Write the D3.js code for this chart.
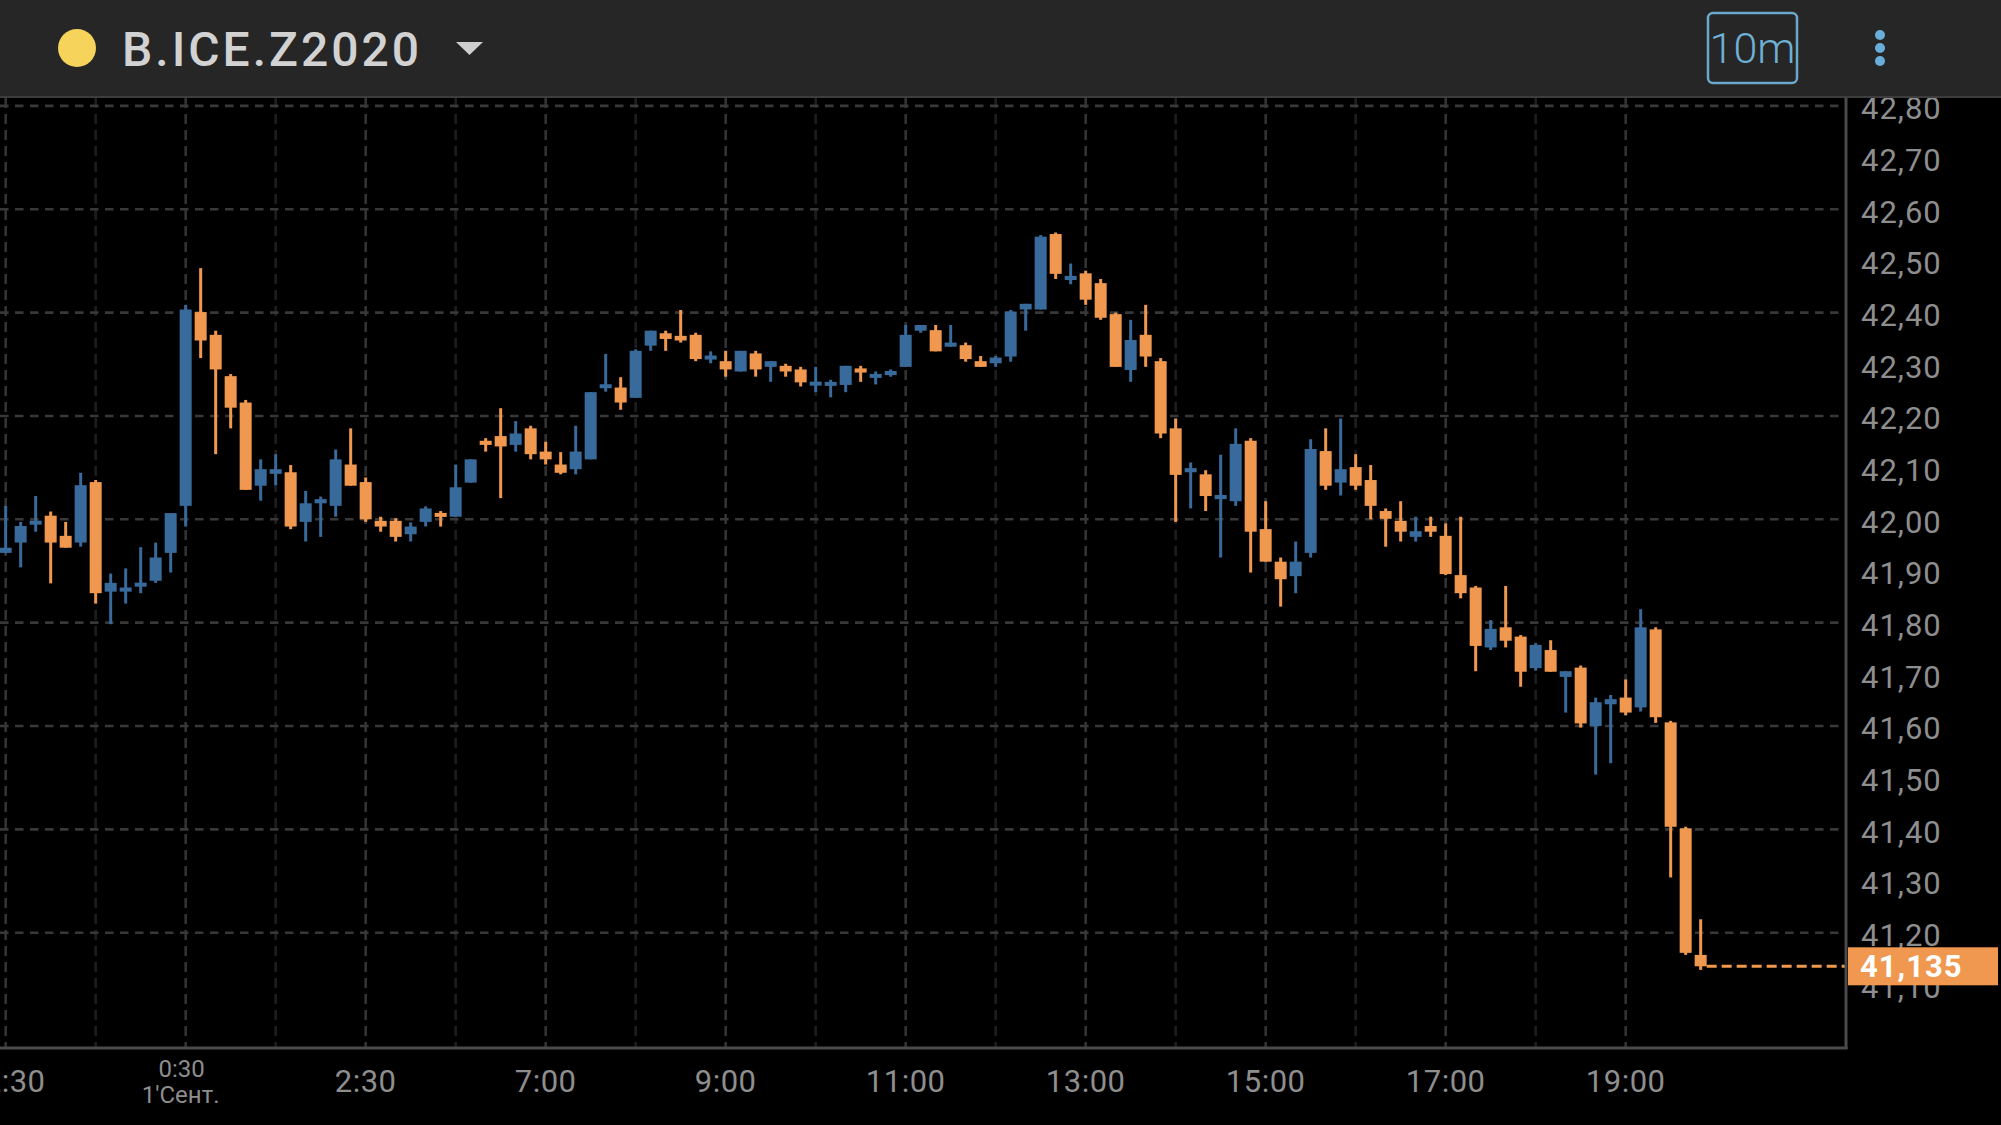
<!DOCTYPE html>
<html>
<head>
<meta charset="utf-8">
<script src="https://cdn.jsdelivr.net/npm/d3@7"></script>
<style>
  html, body { margin: 0; padding: 0; background: #000; }
  svg { display: block; }
</style>
</head>
<body>
<div id="chart"></div>
<script>
// ---- data (10-minute candles, B.ICE.Z2020) ----
const opens = [
  41.935,41.955,41.990,42.007,41.968,41.955,42.072,41.860,41.860,41.870,41.881,41.935,
  42.026,42.401,42.357,42.277,42.226,42.065,42.088,42.091,41.995,42.031,42.026,42.106,
  42.072,41.997,41.997,41.971,41.995,42.012,42.005,42.071,42.152,42.161,42.144,42.176,
  42.131,42.106,42.097,42.116,42.254,42.255,42.235,42.336,42.360,42.355,42.357,42.310,
  42.306,42.286,42.321,42.295,42.297,42.290,42.260,42.259,42.260,42.292,42.274,42.279,
  42.295,42.365,42.366,42.334,42.337,42.306,42.302,42.315,42.406,42.406,42.552,42.463,
  42.476,42.457,42.397,42.289,42.357,42.306,42.176,42.091,42.087,42.039,42.035,42.152,
  41.981,41.918,41.890,41.935,42.132,42.071,42.101,42.076,42.016,41.997,41.966,41.987,
  41.968,41.892,41.868,41.752,41.791,41.773,41.712,41.747,41.695,41.713,41.600,41.642,
  41.655,41.636,41.787,41.607,41.402,41.157
];
const highs = [
  42.026,41.995,42.045,42.015,41.995,42.090,42.076,41.895,41.905,41.946,41.955,42.012,
  42.415,42.486,42.365,42.281,42.231,42.116,42.126,42.105,42.055,42.044,42.135,42.176,
  42.081,42.005,42.002,41.994,42.025,42.016,42.106,42.116,42.157,42.215,42.190,42.181,
  42.150,42.130,42.181,42.246,42.320,42.275,42.329,42.365,42.365,42.405,42.361,42.325,
  42.326,42.326,42.326,42.306,42.301,42.295,42.295,42.270,42.297,42.297,42.286,42.290,
  42.376,42.376,42.376,42.376,42.342,42.316,42.316,42.405,42.417,42.550,42.555,42.495,
  42.481,42.465,42.400,42.386,42.415,42.312,42.195,42.110,42.095,42.125,42.176,42.157,
  42.035,41.926,41.957,42.155,42.176,42.195,42.126,42.105,42.021,42.035,42.005,42.005,
  41.992,42.005,41.871,41.805,41.871,41.776,41.760,41.766,41.706,41.717,41.655,41.660,
  41.690,41.826,41.791,41.610,41.405,41.226
];
const lows = [
  41.934,41.907,41.976,41.876,41.945,41.947,41.837,41.797,41.837,41.857,41.877,41.897,
  41.986,42.312,42.126,42.176,42.057,42.036,42.066,41.981,41.957,41.966,42.005,42.065,
  41.995,41.976,41.957,41.957,41.986,41.986,42.005,42.071,42.131,42.041,42.131,42.116,
  42.106,42.087,42.087,42.116,42.247,42.212,42.235,42.326,42.326,42.342,42.306,42.302,
  42.276,42.286,42.276,42.266,42.276,42.257,42.246,42.236,42.246,42.266,42.261,42.276,
  42.295,42.361,42.325,42.334,42.305,42.295,42.295,42.305,42.365,42.406,42.465,42.455,
  42.415,42.386,42.295,42.266,42.295,42.157,41.995,42.021,42.016,41.926,42.026,41.897,
  41.918,41.831,41.857,41.926,42.057,42.046,42.057,42.000,41.947,41.957,41.957,41.966,
  41.892,41.847,41.706,41.747,41.752,41.676,41.707,41.705,41.626,41.597,41.506,41.528,
  41.621,41.628,41.606,41.307,41.157,41.128
];
const closes = [
  41.945,41.987,41.997,41.955,41.945,42.066,41.857,41.877,41.868,41.877,41.926,42.012,
  42.406,42.346,42.290,42.216,42.057,42.097,42.097,41.986,42.031,42.039,42.116,42.065,
  42.000,41.986,41.966,41.986,42.021,42.005,42.062,42.116,42.144,42.141,42.166,42.126,
  42.116,42.090,42.131,42.246,42.261,42.226,42.326,42.365,42.349,42.346,42.310,42.316,
  42.290,42.326,42.290,42.306,42.286,42.265,42.265,42.265,42.297,42.284,42.281,42.287,
  42.357,42.376,42.325,42.342,42.310,42.295,42.313,42.402,42.417,42.547,42.475,42.471,
  42.425,42.390,42.295,42.347,42.315,42.166,42.086,42.099,42.045,42.047,42.146,41.976,
  41.918,41.884,41.918,42.136,42.065,42.097,42.065,42.026,42.001,41.976,41.977,41.976,
  41.894,41.857,41.755,41.788,41.765,41.705,41.757,41.705,41.706,41.605,41.646,41.652,
  41.626,41.791,41.617,41.405,41.161,41.135
];
const lastPrice = 41.135;
const lastPriceLabel = "41,135";

const yTickValues = [42.8,42.7,42.6,42.5,42.4,42.3,42.2,42.1,42.0,41.9,41.8,41.7,41.6,41.5,41.4,41.3,41.2,41.1];
const yGridValues = [42.8,42.6,42.4,42.2,42.0,41.8,41.6,41.4,41.2];
const xTickIndex  = [0, 12, 24, 36, 48, 60, 72, 84, 96, 108];
const xTickLabels = ["22:30", "0:30", "2:30", "7:00", "9:00", "11:00", "13:00", "15:00", "17:00", "19:00"];
const xTickSubLabels = ["", "1'Сент.", "", "", "", "", "", "", "", ""];
const symbol = "B.ICE.Z2020";
const interval = "10m";

// ---- layout ----
const W = 2001, H = 1125;
const headerH = 96;
const plotTop = 98, plotBottom = 1048, plotRight = 1846;
const UP = "#386a9b", DOWN = "#f0984f";

const svg = d3.select("#chart").append("svg")
  .attr("width", W).attr("height", H)
  .style("font-family", "Roboto, 'Noto Sans', sans-serif");

svg.append("rect").attr("width", W).attr("height", H).attr("fill", "#000");

const x = d3.scaleLinear().domain([0, 113]).range([5.67, 5.67 + 15 * 113]);
const y = d3.scaleLinear().domain([42.0, 42.4]).range([519.3, 312.6]);

svg.append("clipPath").attr("id", "plotclip")
  .append("rect").attr("x", 0).attr("y", plotTop).attr("width", plotRight).attr("height", plotBottom - plotTop);

const plot = svg.append("g").attr("clip-path", "url(#plotclip)");

// vertical grid (hourly, every 6 candles)
const vGrid = d3.range(0, 109, 6);
plot.selectAll("line.vg").data(vGrid).join("line")
  .attr("class", "vg")
  .attr("x1", d => x(d)).attr("x2", d => x(d))
  .attr("y1", plotTop).attr("y2", plotBottom)
  .attr("stroke", d => d % 12 === 0 ? "#333333" : "#1e1e1e")
  .attr("stroke-width", 2.6)
  .attr("stroke-dasharray", "10 6");

// horizontal grid
plot.selectAll("line.hg").data(yGridValues).join("line")
  .attr("class", "hg")
  .attr("x1", 0).attr("x2", plotRight)
  .attr("y1", d => y(d)).attr("y2", d => y(d))
  .attr("stroke", "#383838")
  .attr("stroke-width", 2.6)
  .attr("stroke-dasharray", "8.5 6.5");

// candles
const idx = d3.range(opens.length);
const bodyW = 12;
const cg = plot.append("g");
cg.selectAll("line.wick").data(idx).join("line")
  .attr("class", "wick")
  .attr("x1", i => x(i)).attr("x2", i => x(i))
  .attr("y1", i => y(highs[i])).attr("y2", i => y(lows[i]))
  .attr("stroke", i => closes[i] >= opens[i] ? UP : DOWN)
  .attr("stroke-width", 3);
cg.selectAll("rect.body").data(idx).join("rect")
  .attr("class", "body")
  .attr("x", i => x(i) - bodyW / 2)
  .attr("width", bodyW)
  .attr("y", i => {
    const top = y(Math.max(opens[i], closes[i]));
    const h = Math.abs(y(opens[i]) - y(closes[i]));
    return h < 4 ? (top + h / 2 - 2) : top;
  })
  .attr("height", i => Math.max(4, Math.abs(y(opens[i]) - y(closes[i]))))
  .attr("fill", i => closes[i] >= opens[i] ? UP : DOWN);

// last price dashed line
plot.append("line")
  .attr("x1", x(113) + 6).attr("x2", plotRight)
  .attr("y1", y(lastPrice)).attr("y2", y(lastPrice))
  .attr("stroke", DOWN).attr("stroke-width", 3)
  .attr("stroke-dasharray", "10 5");

// axes lines
svg.append("line").attr("x1", plotRight).attr("x2", plotRight)
  .attr("y1", plotTop).attr("y2", plotBottom + 1)
  .attr("stroke", "#4a4a4a").attr("stroke-width", 3);
svg.append("line").attr("x1", 0).attr("x2", plotRight + 1.5)
  .attr("y1", plotBottom).attr("y2", plotBottom)
  .attr("stroke", "#4a4a4a").attr("stroke-width", 3);

// y axis labels
const yAxis = d3.axisRight(y).tickValues(yTickValues)
  .tickFormat(d => d3.format(".2f")(d).replace(".", ","))
  .tickSize(0).tickPadding(0);
const ya = svg.append("g").attr("transform", `translate(1861,3)`).call(yAxis);
ya.select(".domain").remove();
ya.selectAll("text")
  .attr("fill", "#8e8e8e")
  .attr("font-size", 31)
  .attr("letter-spacing", 1)
  .attr("font-family", "Roboto, sans-serif");

// last price box
svg.append("rect")
  .attr("x", 1848).attr("y", y(lastPrice) - 19)
  .attr("width", 150).attr("height", 38)
  .attr("fill", DOWN);
svg.append("text")
  .attr("x", 1860).attr("y", y(lastPrice) + 11)
  .attr("fill", "#fff").attr("font-size", 31).attr("font-weight", 700)
  .attr("letter-spacing", 1)
  .text(lastPriceLabel);

// x axis labels
const xl = svg.append("g");
xTickIndex.forEach((ti, k) => {
  if (xTickSubLabels[k]) {
    xl.append("text").attr("x", x(ti) - 4).attr("y", 1077)
      .attr("text-anchor", "middle").attr("fill", "#8e8e8e")
      .attr("font-size", 24).text(xTickLabels[k]);
    xl.append("text").attr("x", x(ti) - 5).attr("y", 1103)
      .attr("text-anchor", "middle").attr("fill", "#8e8e8e")
      .attr("font-size", 24).text(xTickSubLabels[k]);
  } else {
    xl.append("text").attr("x", x(ti)).attr("y", 1092)
      .attr("text-anchor", "middle").attr("fill", "#8e8e8e")
      .attr("font-size", 31).attr("letter-spacing", 0.5).text(xTickLabels[k]);
  }
});

// header
svg.append("rect").attr("x", 0).attr("y", 0).attr("width", W).attr("height", headerH).attr("fill", "#262626");
svg.append("rect").attr("x", 0).attr("y", headerH).attr("width", W).attr("height", 2).attr("fill", "#3d3d3d");
svg.append("circle").attr("cx", 77).attr("cy", 48).attr("r", 19).attr("fill", "#f6d35b");
svg.append("text").attr("x", 122).attr("y", 66)
  .attr("fill", "#d2d2d2").attr("font-size", 48).attr("font-weight", 500)
  .attr("letter-spacing", 3).text(symbol);
svg.append("path").attr("d", "M456,42 L483,42 L469.5,55 Z").attr("fill", "#cfcfcf");
svg.append("rect").attr("x", 1708).attr("y", 13).attr("width", 89).attr("height", 70)
  .attr("rx", 5).attr("fill", "none").attr("stroke", "#6aa9cb").attr("stroke-width", 2.5);
svg.append("text").attr("x", 1752.5).attr("y", 63).attr("text-anchor", "middle")
  .attr("fill", "#6fb1d6").attr("font-size", 43).attr("font-weight", 300).text(interval);
[35, 48, 61].forEach(cy => {
  svg.append("circle").attr("cx", 1880).attr("cy", cy).attr("r", 5).attr("fill", "#69aedb");
});
</script>
</body>
</html>
